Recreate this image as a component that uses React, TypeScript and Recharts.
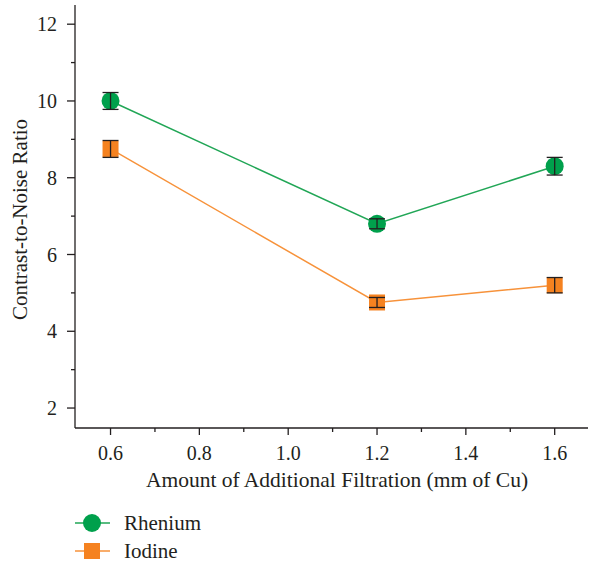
import { LineChart, Line, XAxis, YAxis, ErrorBar } from "recharts";

const filtration = [0.6, 1.2, 1.6];
const rheniumCnr = [10.0, 6.8, 8.3];
const rheniumErr = [0.22, 0.13, 0.23];
const iodineCnr = [8.75, 4.75, 5.2];
const iodineErr = [0.22, 0.13, 0.2];

const xTicks = [0.6, 0.7, 0.8, 0.9, 1.0, 1.1, 1.2, 1.3, 1.4, 1.5, 1.6];
const xLabels = ["0.6", "", "0.8", "", "1.0", "", "1.2", "", "1.4", "", "1.6"];
const yTicks = [2, 3, 4, 5, 6, 7, 8, 9, 10, 11, 12];
const yLabels = ["2", "", "4", "", "6", "", "8", "", "10", "", "12"];

const seriesNames = ["Rhenium", "Iodine"];

const INK = "#231f20";
const GREEN = "#00a04c";
const GREEN_LINE = "#21a656";
const ORANGE = "#f58220";
const ORANGE_LINE = "#f7923a";
const FONT = "'Liberation Serif', 'Times New Roman', serif";

const data = filtration.map((x, i) => ({
  x,
  rhenium: rheniumCnr[i],
  rheniumErr: rheniumErr[i],
  iodine: iodineCnr[i],
  iodineErr: iodineErr[i],
}));

function YTick(props: any) {
  const { x, y, payload } = props;
  const label = yLabels[yTicks.indexOf(payload.value)] ?? "";
  const major = label !== "";
  return (
    <g>
      <line x1={x} x2={x - (major ? 8 : 4)} y1={y} y2={y} stroke={INK} strokeWidth={1.3} />
      {major && (
        <text x={x - 18} y={y} textAnchor="end" dominantBaseline="central" fill={INK} fontSize={20} style={{ fontFamily: FONT }}>
          {label}
        </text>
      )}
    </g>
  );
}

function XTick(props: any) {
  const { x, y, payload } = props;
  const idx = xTicks.findIndex((t) => Math.abs(t - payload.value) < 1e-6);
  const label = xLabels[idx] ?? "";
  const major = label !== "";
  return (
    <g>
      <line x1={x} x2={x} y1={y} y2={y + (major ? 7 : 4)} stroke={INK} strokeWidth={1.3} />
      {major && (
        <text x={x} y={y + 25} textAnchor="middle" dominantBaseline="central" fill={INK} fontSize={20} style={{ fontFamily: FONT }}>
          {label}
        </text>
      )}
    </g>
  );
}

function Square(props: any) {
  const { cx, cy } = props;
  if (cx == null || cy == null) return null;
  return <rect x={cx - 8} y={cy - 8} width={16} height={16} fill={ORANGE} />;
}

export default function App() {
  return (
    <div style={{ position: "absolute", left: 0, top: 0, width: 590, height: 565, background: "#fff" }}>
      <LineChart width={590} height={565} data={data} margin={{ top: 5, right: 2, bottom: 136, left: 0 }}>
        <XAxis
          type="number"
          dataKey="x"
          domain={[0.52, 1.675]}
          ticks={xTicks}
          allowDataOverflow
          stroke={INK}
          strokeWidth={1.3}
          tickSize={0}
          tickMargin={0}
          tickLine={false}
          tick={<XTick />}
          interval={0}
          height={1}
          label={(p: any) => {
            const vb = p.viewBox;
            return (
              <text x={337} y={vb.y + 52} textAnchor="middle" dominantBaseline="central" fill={INK} fontSize={21.5} style={{ fontFamily: FONT }}>
                Amount of Additional Filtration (mm of Cu)
              </text>
            );
          }}
        />
        <YAxis
          type="number"
          domain={[1.48, 12.5]}
          ticks={yTicks}
          allowDataOverflow
          width={75}
          stroke={INK}
          strokeWidth={1.3}
          tickSize={0}
          tickMargin={0}
          tickLine={false}
          tick={<YTick />}
          interval={0}
          label={(p: any) => {
            const vb = p.viewBox;
            const cy = vb.y + vb.height / 2 + 3;
            return (
              <text
                x={20}
                y={cy}
                transform={`rotate(-90, 20, ${cy})`}
                textAnchor="middle"
                dominantBaseline="central"
                fill={INK}
                fontSize={21}
                style={{ fontFamily: FONT }}
              >
                Contrast-to-Noise Ratio
              </text>
            );
          }}
        />
        <Line
          dataKey="rhenium"
          stroke={GREEN_LINE}
          strokeWidth={1.5}
          dot={{ r: 9, fill: GREEN, stroke: GREEN, strokeWidth: 0 }}
          activeDot={false}
          isAnimationActive={false}
        />
        <Line
          dataKey="iodine"
          stroke={ORANGE_LINE}
          strokeWidth={1.5}
          dot={<Square />}
          activeDot={false}
          isAnimationActive={false}
        />
        <Line dataKey="rhenium" stroke="none" dot={false} activeDot={false} legendType="none" isAnimationActive={false}>
          <ErrorBar dataKey="rheniumErr" width={8} stroke={INK} strokeWidth={1.3} direction="y" isAnimationActive={false} zIndex={900} />
        </Line>
        <Line dataKey="iodine" stroke="none" dot={false} activeDot={false} legendType="none" isAnimationActive={false}>
          <ErrorBar dataKey="iodineErr" width={8} stroke={INK} strokeWidth={1.3} direction="y" isAnimationActive={false} zIndex={900} />
        </Line>
      </LineChart>
      <svg width={200} height={60} style={{ position: "absolute", left: 70, top: 508 }}>
        <line x1={5} x2={40} y1={15} y2={15} stroke={GREEN_LINE} strokeWidth={1.5} />
        <circle cx={22} cy={15} r={9} fill={GREEN} />
        <text x={54} y={15} dominantBaseline="central" fill={INK} fontSize={21} style={{ fontFamily: FONT }}>
          {seriesNames[0]}
        </text>
        <line x1={5} x2={40} y1={43} y2={43} stroke={ORANGE_LINE} strokeWidth={1.5} />
        <rect x={14} y={35} width={16} height={16} fill={ORANGE} />
        <text x={54} y={43} dominantBaseline="central" fill={INK} fontSize={21} style={{ fontFamily: FONT }}>
          {seriesNames[1]}
        </text>
      </svg>
    </div>
  );
}
